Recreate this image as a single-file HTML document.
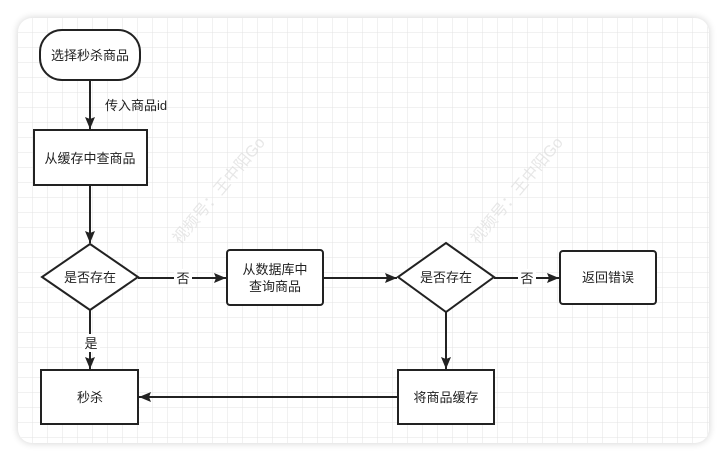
<!DOCTYPE html>
<html><head><meta charset="utf-8"><style>
body{margin:0;width:727px;height:462px;background:#fff;overflow:hidden;font-family:"Liberation Sans","Noto Sans CJK SC",sans-serif}
</style></head><body>
<svg width="727" height="462" xmlns="http://www.w3.org/2000/svg" font-family="Liberation Sans, Noto Sans CJK SC, sans-serif">
<defs>
<pattern id="g" x="18" y="18" width="15" height="15" patternUnits="userSpaceOnUse">
<path d="M15 0V15M0 15H15" stroke="#e3e3e3" stroke-width="1" fill="none"/>
</pattern>
<filter id="s" x="-5%" y="-5%" width="110%" height="110%"><feGaussianBlur stdDeviation="4"/></filter>
<marker id="a" markerWidth="14" markerHeight="12" refX="12" refY="5" orient="auto" markerUnits="userSpaceOnUse"><path d="M0 0L12 5L0 10L2 5Z" fill="#222"/></marker>
</defs>
<rect x="18" y="18" width="691" height="425" rx="14" fill="#000" opacity="0.18" filter="url(#s)"/>
<rect x="18" y="18" width="691" height="425" rx="14" fill="#fff"/>
<rect x="18" y="18" width="691" height="425" rx="14" fill="url(#g)"/>
<g fill="#ddd" font-size="16" opacity="0.7">
<text transform="translate(180,245) rotate(-50)">视频号：王中阳Go</text>
<text transform="translate(478,245) rotate(-50)">视频号：王中阳Go</text>
</g>
<g stroke="#222" stroke-width="2" fill="#fff">
<rect x="40" y="30" width="100" height="50" rx="22"/>
<rect x="34" y="130" width="113" height="55"/>
<path d="M90 244L138 277L90 310L42 277Z"/>
<rect x="227" y="250" width="96" height="55" rx="3"/>
<path d="M446 243L494 277L446 312L398 277Z"/>
<rect x="560" y="251" width="96" height="53" rx="3"/>
<rect x="398" y="370" width="96" height="54"/>
<rect x="41" y="370" width="97" height="54"/>
</g>
<g stroke="#222" stroke-width="2" fill="none" marker-end="url(#a)">
<path d="M90 80V129"/>
<path d="M90 185V243"/>
<path d="M138 278H226"/>
<path d="M323 278H397"/>
<path d="M494 278H559"/>
<path d="M446 312V369"/>
<path d="M398 397H139"/>
<path d="M90 310V369"/>
</g>
<g fill="#fff">
<rect x="174" y="269" width="18" height="18"/>
<rect x="518" y="269" width="18" height="18"/>
<rect x="82" y="334" width="18" height="18"/>
</g>
<g font-size="13" fill="#222" text-anchor="middle">
<text x="90" y="60">选择秒杀商品</text>
<text x="136" y="110">传入商品id</text>
<text x="90" y="163">从缓存中查商品</text>
<text x="90" y="282">是否存在</text>
<text x="183" y="283">否</text>
<text x="275" y="274">从数据库中</text>
<text x="275" y="291">查询商品</text>
<text x="446" y="282">是否存在</text>
<text x="527" y="283">否</text>
<text x="608" y="282">返回错误</text>
<text x="446" y="402">将商品缓存</text>
<text x="90" y="402">秒杀</text>
<text x="91" y="348">是</text>
</g>
</svg>
</body></html>
